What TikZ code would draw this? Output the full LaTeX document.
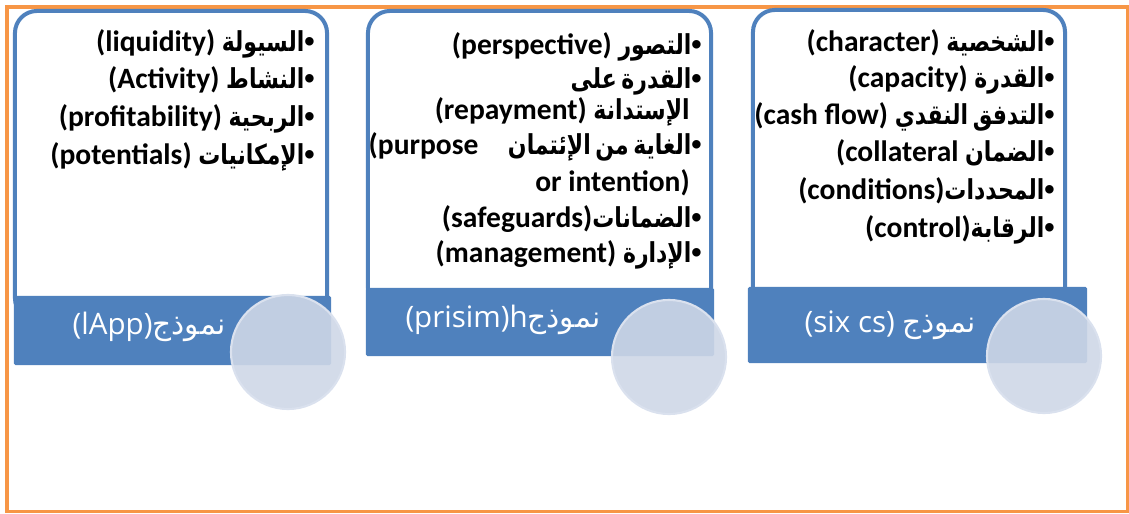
\documentclass[tikz,border=0pt]{standalone}
\usepackage{xcolor}
\usepackage{fontspec}
\usepackage{tikz}
\usetikzlibrary{shapes,positioning}
\setmainfont{Carlito}
\newfontfamily\arabicfont[Script=Arabic, Scale=0.93, FakeStretch=0.8, WordSpace=0.6]{DejaVu Sans}
\newfontfamily\titlearabic[Script=Arabic]{DejaVu Sans}
\newfontfamily\bulletfont{Liberation Sans}
\newfontfamily\bandfont{Open Sans}
\TeXXeTstate=1
\newcommand{\artxt}[1]{{\arabicfont\beginR #1\endR}}
\newcommand{\artitle}[1]{{\titlearabic\beginR #1\endR}}
\newcommand{\bul}{{\bulletfont •}}
\newcommand{\itemfont}{\bfseries\fontsize{21}{24}\selectfont}
\definecolor{panelblue}{HTML}{4F81BD}
\definecolor{frameorange}{HTML}{F79646}
\definecolor{circlefill}{RGB}{206,215,231}
\definecolor{circleline}{RGB}{218,225,238}

\begin{document}
\begin{tikzpicture}[x=0.025cm, y=-0.025cm,
    box/.style={rectangle, draw=panelblue, line width=0.1cm, fill=white, rounded corners=0.55cm},
    band/.style={rectangle, fill=panelblue, rounded corners=1pt},
    disc/.style={circle, fill=circlefill, fill opacity=0.9, draw=circleline, draw opacity=1, line width=1.5pt, minimum size=2.85cm, inner sep=0pt},
    item/.style={anchor=base east, inner sep=0pt, font=\itemfont},
    bandtext/.style={text=white, inner sep=0pt, font=\bandfont\fontsize{21}{24}\selectfont}]
    \useasboundingbox (0,0) rectangle (1129,513);
    \draw [frameorange, line width=0.075cm] (7,7) rectangle (1127,511);

    % white boxes
    \node (lbox) [box, minimum width=7.8cm, minimum height=7.725cm] at (171,165.5) {};
    \node (mbox) [box, minimum width=8.575cm, minimum height=7.475cm] at (539.5,160.5) {};
    \node (rbox) [box, minimum width=7.8cm, minimum height=7.5cm] at (909,160) {};

    % blue bands
    \node (lband) [band, minimum width=7.925cm, minimum height=1.725cm] at (172.5,330.5) {};
    \node (mband) [band, minimum width=8.7cm, minimum height=1.7cm] at (540,322) {};
    \node (rband) [band, minimum width=8.475cm, minimum height=1.9cm] at (917.5,325) {};

    \node (ltitle) [bandtext] at (149,327) {(lApp)\artitle{نموذج}};
    \node (mtitle) [bandtext] at (503,320) {(prisim)h\artitle{نموذج}};
    \node (rtitle) [bandtext] at (890,325) {(six cs) \artitle{نموذج}};

    % circles
    \node (ldisc) [disc] at (288,352) {};
    \node (mdisc) [disc] at (669,357) {};
    \node (rdisc) [disc] at (1044,356) {};

    % six cs
    \node (r1) [item] at (1055,51) {(character) \artxt{الشخصية}\bul};
    \node (r2) [item] at (1055,87) {(capacity) \artxt{القدرة}\bul};
    \node (r3) [item] at (1055,124) {(cash flow) \artxt{التدفق النقدي}\bul};
    \node (r4) [item] at (1055,161) {(collateral \artxt{الضمان}\bul};
    \node (r5) [item] at (1055,199) {(conditions)\artxt{المحددات}\bul};
    \node (r6) [item] at (1055,237) {(control)\artxt{الرقابة}\bul};

    % prisim
    \node (m1) [item] at (702,54) {(perspective) \artxt{التصور}\bul};
    \node (m2) [item] at (702,88) {\artxt{القدرة على}\bul};
    \node (m3) [item] at (690,119) {(repayment) \artxt{الإستدانة}};
    \node (m4) [item] at (702,154) {(purpose\quad\artxt{الغاية من الإئتمان}\bul};
    \node (m5) [item] at (690,191) {or intention)};
    \node (m6) [item] at (702,227) {(safeguards)\artxt{الضمانات}\bul};
    \node (m7) [item] at (702,262) {(management) \artxt{الإدارة}\bul};

    % lApp
    \node (l1) [item] at (315,51) {(liquidity) \artxt{السيولة}\bul};
    \node (l2) [item] at (315,88) {(Activity) \artxt{النشاط}\bul};
    \node (l3) [item] at (315,126) {(profitability) \artxt{الربحية}\bul};
    \node (l4) [item] at (315,164) {(potentials) \artxt{الإمكانيات}\bul};
\end{tikzpicture}
\end{document}
